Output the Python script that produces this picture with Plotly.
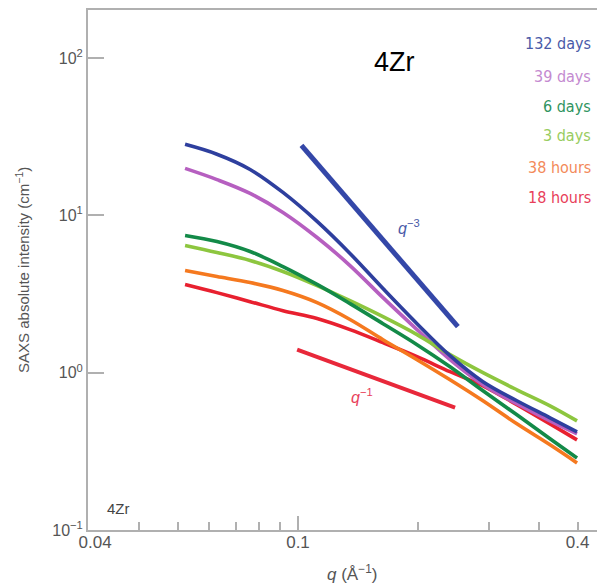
import numpy as np
import plotly.graph_objects as go

# Scattering vector q (1/Å) at which the curves are sampled
q = [0.0522, 0.0627, 0.0759, 0.0917, 0.1116, 0.1349, 0.1631,
     0.1984, 0.2399, 0.2900, 0.3525, 0.4266, 0.4984]

# SAXS absolute intensity (1/cm) for each ageing time
i_132d = [28.3, 24.5, 19.6, 14.0, 9.16, 5.73, 3.43, 2.05, 1.283, 0.876, 0.663, 0.517, 0.421]
i_39d = [19.9, 16.9, 13.8, 10.45, 7.24, 4.80, 3.00, 1.88, 1.21, 0.839, 0.635, 0.494, 0.409]
i_6d = [7.46, 6.83, 5.90, 4.73, 3.64, 2.75, 2.05, 1.508, 1.092, 0.768, 0.540, 0.380, 0.287]
i_3d = [6.44, 5.81, 5.17, 4.40, 3.58, 2.87, 2.27, 1.746, 1.302, 1.00, 0.779, 0.616, 0.494]
i_38h = [4.46, 4.09, 3.74, 3.33, 2.79, 2.18, 1.622, 1.21, 0.902, 0.663, 0.473, 0.348, 0.267]
i_18h = [3.64, 3.23, 2.83, 2.48, 2.21, 1.88, 1.553, 1.264, 1.015, 0.826, 0.626, 0.473, 0.374]

series_names = ["132 days", "39 days", "6 days", "3 days", "38 hours", "18 hours"]
series_values = [i_132d, i_39d, i_6d, i_3d, i_38h, i_18h]
line_colors = ["#2e3f9e", "#b65fc0", "#138a48", "#8dc63f", "#f5791f", "#e8202f"]
label_colors = ["#4a5aa8", "#c48ad0", "#2f9460", "#98cc60", "#f38a5a", "#e8405a"]
draw_order = [5, 4, 1, 3, 2, 0]

# Power-law guide lines (end points)
guide3_q = [0.102, 0.251]
guide3_i = [27.9, 1.96]
guide1_q = [0.0995, 0.247]
guide1_i = [1.40, 0.60]

# Axis ticks and labels
y_tick_vals = [0.1, 1, 10, 100]
y_tick_text = ["10<sup>−1</sup>", "10<sup>0</sup>", "10<sup>1</sup>", "10<sup>2</sup>"]
q_major_tick = [0.1]
q_minor_ticks = [0.04, 0.05, 0.06, 0.07, 0.08, 0.09, 0.2, 0.3, 0.4, 0.5]
q_label_pos = [0.0311, 0.1, 0.5]
q_label_text = ["0.04", "0.1", "0.4"]

q_range = [-1.525, -0.2525]
i_range = [-1.0, 2.306]

FONT = "Liberation Sans, Arial, sans-serif"
COND = "DejaVu Sans Condensed, Liberation Sans, sans-serif"
AXIS_GREY = "#b0b0b0"
TEXT_GREY = "#555555"

fig = go.Figure()

for k in draw_order:
    fig.add_trace(go.Scatter(
        x=q, y=series_values[k], mode="lines", name=series_names[k],
        line=dict(color=line_colors[k], width=3.6, shape="spline", smoothing=1.0),
        showlegend=False,
    ))

# Guide lines live on the overlay axis that carries the q labels (same range)
fig.add_trace(go.Scatter(x=guide3_q, y=guide3_i, mode="lines", xaxis="x2",
                         line=dict(color="#3447a8", width=5), showlegend=False))
fig.add_trace(go.Scatter(x=guide1_q, y=guide1_i, mode="lines", xaxis="x2",
                         line=dict(color="#e8283a", width=4), showlegend=False))

annotations = []
# Colour-coded series labels, stacked at the top right
label_y = [0.935, 0.873, 0.815, 0.758, 0.698, 0.640]
for name, col, yy in zip(series_names, label_colors, label_y):
    annotations.append(dict(
        text=name, xref="paper", yref="paper", x=0.993, y=yy,
        xanchor="right", yanchor="middle", showarrow=False,
        font=dict(family=COND, size=16, color=col),
    ))

# Slope labels next to the guide lines (log axes take log10 positions)
annotations.append(dict(
    text="<i>q</i><sup>−3</sup>", x=np.log10(0.1895), y=np.log10(8.39),
    showarrow=False, font=dict(family=FONT, size=16, color="#4a5aa8"),
))
annotations.append(dict(
    text="<i>q</i><sup>−1</sup>", x=np.log10(0.1445), y=np.log10(0.714),
    showarrow=False, font=dict(family=FONT, size=16, color="#e8405a"),
))

# Sample name: large heading and small corner tag
annotations.append(dict(
    text="4Zr", xref="paper", yref="paper", x=0.603, y=0.90,
    xanchor="center", yanchor="middle", showarrow=False,
    font=dict(family=FONT, size=27, color="#000000"),
))
annotations.append(dict(
    text="4Zr", x=np.log10(0.0355), y=np.log10(0.138),
    showarrow=False, font=dict(family=FONT, size=15, color="#444444"),
))

# Axis titles
annotations.append(dict(
    text="SAXS absolute intensity (cm<sup>−1</sup>)", xref="paper", yref="paper",
    x=-0.1297, y=0.5, textangle=-90, xanchor="center", yanchor="middle",
    showarrow=False, font=dict(family=FONT, size=15, color=TEXT_GREY),
))
annotations.append(dict(
    text="<i>q</i> (Å<sup>−1</sup>)", xref="paper", yref="paper",
    x=0.519, y=-0.083, xanchor="center", yanchor="middle",
    showarrow=False, font=dict(family=FONT, size=17, color=TEXT_GREY),
))

fig.update_layout(
    width=597, height=583,
    margin=dict(l=88, r=0, t=10, b=53),
    paper_bgcolor="white", plot_bgcolor="white",
    annotations=annotations,
    xaxis=dict(
        type="log", range=q_range, showgrid=False, zeroline=False,
        showline=True, linecolor=AXIS_GREY, linewidth=2, mirror=True,
        ticks="inside", tickvals=q_major_tick, ticklen=14, tickwidth=1.5,
        tickcolor=AXIS_GREY, showticklabels=False,
        minor=dict(ticks="inside", tickmode="array", tickvals=q_minor_ticks,
                   ticklen=8, tickwidth=1.5, tickcolor=AXIS_GREY, showgrid=False),
    ),
    xaxis2=dict(
        type="log", range=q_range, overlaying="x", anchor="y", side="bottom",
        showgrid=False, zeroline=False, showline=False, ticks="",
        tickmode="array", tickvals=q_label_pos, ticktext=q_label_text,
        tickfont=dict(family=FONT, size=17, color=TEXT_GREY),
    ),
    yaxis=dict(
        type="log", range=i_range, showgrid=False, zeroline=False,
        showline=True, linecolor=AXIS_GREY, linewidth=2, mirror=False,
        ticks="inside", tickvals=y_tick_vals, ticktext=y_tick_text,
        ticklen=16, tickwidth=1.5, tickcolor=AXIS_GREY,
        tickfont=dict(family=FONT, size=16, color=TEXT_GREY),
    ),
)

fig.write_html("out.html")
